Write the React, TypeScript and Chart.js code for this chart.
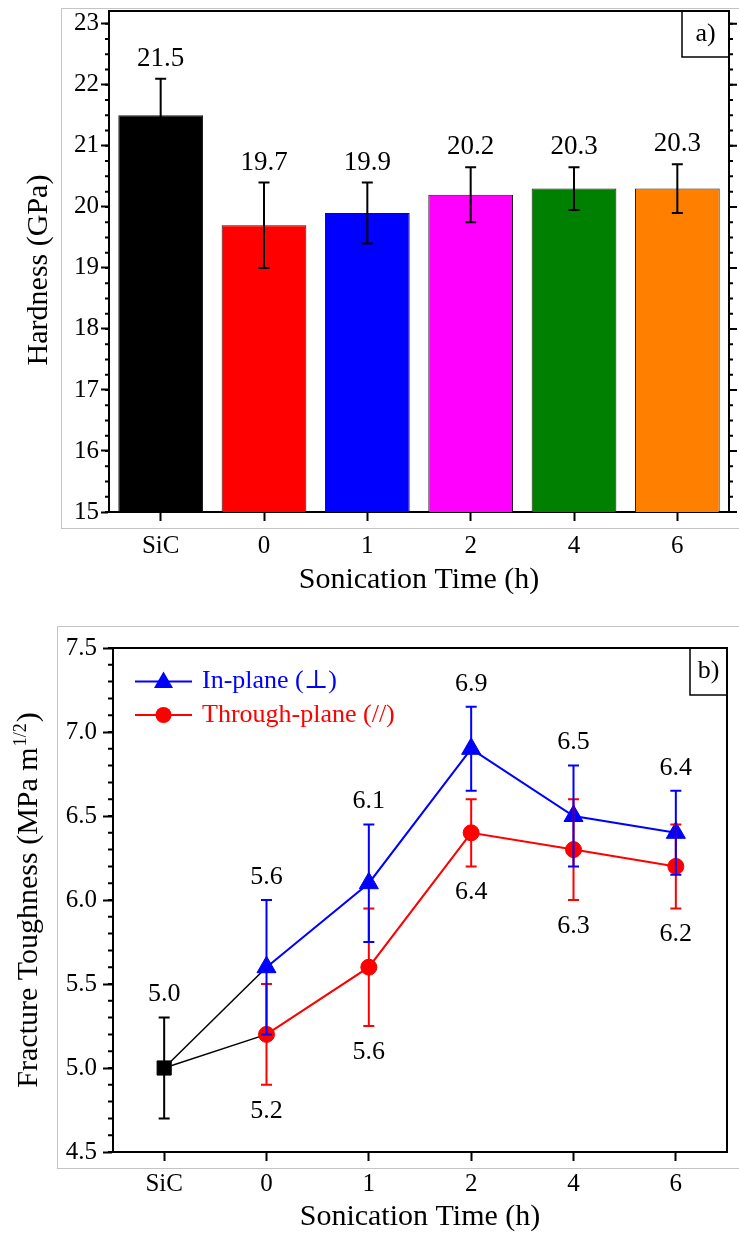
import React, { useEffect, useRef } from "react";
import { Chart, registerables } from "chart.js";

Chart.register(...registerables);

const FAMILY = "'Liberation Serif', 'Times New Roman', 'DejaVu Serif', serif";

// ---------- panel a) hardness ----------
const categories = ["SiC", "0", "1", "2", "4", "6"];
const hardness = [21.5, 19.7, 19.9, 20.2, 20.3, 20.3];
const hardnessErr = [0.6, 0.7, 0.5, 0.45, 0.35, 0.4];
const barColors = ["#000000", "#ff0000", "#0000ff", "#ff00ff", "#008000", "#ff8000"];
const hardnessMin = 15;
const hardnessMax = 23.21;
const hardnessStep = 1;
const hardnessMinorStep = 0.25;

// ---------- panel b) fracture toughness ----------
const sicToughness = [5.0];
const sicToughnessErr = [0.3];
const inPlane = [5.6, 6.1, 6.9, 6.5, 6.4]; // 0,1,2,4,6 h
const inPlaneErr = [0.4, 0.35, 0.25, 0.3, 0.25];
const throughPlane = [5.2, 5.6, 6.4, 6.3, 6.2];
const throughPlaneErr = [0.3, 0.35, 0.2, 0.3, 0.25];
const toughnessMin = 4.5;
const toughnessMax = 7.5;
const toughnessStep = 0.5;
const toughnessMinorStep = 0.1;

const BLUE = "#0000ff";
const RED = "#ff0000";

function errorBar(ctx: CanvasRenderingContext2D, x: number, yTop: number, yBot: number, cap: number, color: string) {
  ctx.save();
  ctx.strokeStyle = color;
  ctx.lineWidth = 2;
  ctx.beginPath();
  ctx.moveTo(x, yTop);
  ctx.lineTo(x, yBot);
  ctx.moveTo(x - cap / 2, yTop);
  ctx.lineTo(x + cap / 2, yTop);
  ctx.moveTo(x - cap / 2, yBot);
  ctx.lineTo(x + cap / 2, yBot);
  ctx.stroke();
  ctx.restore();
}

function yTicks(ctx: CanvasRenderingContext2D, yScale: any, x: number, dir: number, len: number, step: number, min: number, max: number) {
  ctx.save();
  ctx.strokeStyle = "#000";
  ctx.lineWidth = 2;
  ctx.beginPath();
  const n = Math.floor((max - min) / step + 1e-6);
  for (let i = 0; i <= n; i++) {
    const v = min + i * step;
    const y = yScale.getPixelForValue(v);
    ctx.moveTo(x, y);
    ctx.lineTo(x + dir * len, y);
  }
  ctx.stroke();
  ctx.restore();
}

function frame(ctx: CanvasRenderingContext2D, a: any) {
  ctx.save();
  ctx.strokeStyle = "#000";
  ctx.lineWidth = 2;
  ctx.beginPath();
  ctx.moveTo(a.left, a.top);
  ctx.lineTo(a.right, a.top);
  ctx.lineTo(a.right, a.bottom);
  ctx.stroke();
  ctx.restore();
}

function panelTag(ctx: CanvasRenderingContext2D, x0: number, y0: number, x1: number, y1: number, text: string) {
  ctx.save();
  ctx.strokeStyle = "#000";
  ctx.lineWidth = 1.5;
  ctx.strokeRect(x0, y0, x1 - x0, y1 - y0);
  ctx.fillStyle = "#000";
  ctx.font = `26px ${FAMILY}`;
  ctx.textAlign = "center";
  ctx.textBaseline = "middle";
  ctx.fillText(text, (x0 + x1) / 2, (y0 + y1) / 2);
  ctx.restore();
}

function grayBox(ctx: CanvasRenderingContext2D, x: number, y: number, w: number, h: number) {
  ctx.save();
  ctx.fillStyle = "#ffffff";
  ctx.fillRect(0, 0, ctx.canvas.width, ctx.canvas.height);
  ctx.strokeStyle = "#c4c4c4";
  ctx.lineWidth = 1;
  ctx.strokeRect(x + 0.5, y + 0.5, w, h);
  ctx.restore();
}

const panelAPlugin = {
  id: "panelA",
  beforeDraw(chart: any) {
    grayBox(chart.ctx, 61, 8, 800, 520);
  },
  afterDatasetsDraw(chart: any) {
    const ctx = chart.ctx;
    const y = chart.scales.y;
    const meta = chart.getDatasetMeta(0);
    meta.data.forEach((bar: any, i: number) => {
      const top = y.getPixelForValue(hardness[i] + hardnessErr[i]);
      const bot = y.getPixelForValue(hardness[i] - hardnessErr[i]);
      errorBar(ctx, bar.x, top, bot, 11, "#000");
      ctx.save();
      ctx.fillStyle = "#000";
      ctx.font = `27px ${FAMILY}`;
      ctx.textAlign = "center";
      ctx.textBaseline = "middle";
      ctx.fillText(hardness[i].toFixed(1), bar.x, top - 20);
      ctx.restore();
    });
  },
  afterDraw(chart: any) {
    const ctx = chart.ctx;
    const a = chart.chartArea;
    const y = chart.scales.y;
    frame(ctx, a);
    yTicks(ctx, y, a.left, -1, 4, hardnessMinorStep, hardnessMin, hardnessMax);
    yTicks(ctx, y, a.right, 1, 4, hardnessMinorStep, hardnessMin, hardnessMax);
    yTicks(ctx, y, a.right, 1, 8, hardnessStep, hardnessMin, hardnessMax);
    panelTag(ctx, 682, a.top, a.right, 57, "a)");
    ctx.save();
    ctx.translate(47, 270);
    ctx.rotate(-Math.PI / 2);
    ctx.fillStyle = "#000";
    ctx.font = `30px ${FAMILY}`;
    ctx.textAlign = "center";
    ctx.textBaseline = "alphabetic";
    ctx.fillText("Hardness (GPa)", 0, 0);
    ctx.restore();
  },
};

function drawTriangle(ctx: CanvasRenderingContext2D, x: number, y: number, r: number) {
  ctx.beginPath();
  ctx.moveTo(x, y - r);
  ctx.lineTo(x + r * Math.sin((2 * Math.PI) / 3), y - r * Math.cos((2 * Math.PI) / 3));
  ctx.lineTo(x + r * Math.sin((4 * Math.PI) / 3), y - r * Math.cos((4 * Math.PI) / 3));
  ctx.closePath();
  ctx.fill();
}

const panelBPlugin = {
  id: "panelB",
  beforeDraw(chart: any) {
    grayBox(chart.ctx, 57, 26, 800, 542);
  },
  afterDatasetsDraw(chart: any) {
    const ctx = chart.ctx;
    const x = chart.scales.x;
    const y = chart.scales.y;
    const label = (t: string, px: number, py: number) => {
      ctx.save();
      ctx.fillStyle = "#000";
      ctx.font = `26px ${FAMILY}`;
      ctx.textAlign = "center";
      ctx.textBaseline = "middle";
      ctx.fillText(t, px, py);
      ctx.restore();
    };
    // SiC
    {
      const px = x.getPixelForValue(0);
      const top = y.getPixelForValue(sicToughness[0] + sicToughnessErr[0]);
      const bot = y.getPixelForValue(sicToughness[0] - sicToughnessErr[0]);
      errorBar(ctx, px, top, bot, 11, "#000");
      label(sicToughness[0].toFixed(1), px, top - 23);
    }
    throughPlane.forEach((v, i) => {
      const px = x.getPixelForValue(i + 1);
      const top = y.getPixelForValue(v + throughPlaneErr[i]);
      const bot = y.getPixelForValue(v - throughPlaneErr[i]);
      errorBar(ctx, px, top, bot, 11, RED);
      label(v.toFixed(1), px, bot + 26);
    });
    inPlane.forEach((v, i) => {
      const px = x.getPixelForValue(i + 1);
      const top = y.getPixelForValue(v + inPlaneErr[i]);
      const bot = y.getPixelForValue(v - inPlaneErr[i]);
      errorBar(ctx, px, top, bot, 11, BLUE);
      label(v.toFixed(1), px, top - 23);
    });
  },
  afterDraw(chart: any) {
    const ctx = chart.ctx;
    const a = chart.chartArea;
    const y = chart.scales.y;
    frame(ctx, a);
    yTicks(ctx, y, a.left, -1, 5, toughnessMinorStep, toughnessMin, toughnessMax);
    panelTag(ctx, 690, a.top, a.right, 95, "b)");

    // legend
    const items = [
      { text: "In-plane (\u22A5)", color: BLUE, shape: "tri", y: 81.5 },
      { text: "Through-plane (//)", color: RED, shape: "circ", y: 115 },
    ];
    items.forEach((it) => {
      ctx.save();
      ctx.strokeStyle = it.color;
      ctx.fillStyle = it.color;
      ctx.lineWidth = 2;
      ctx.beginPath();
      ctx.moveTo(135, it.y);
      ctx.lineTo(192, it.y);
      ctx.stroke();
      if (it.shape === "tri") drawTriangle(ctx, 163.5, it.y + 1, 11);
      else {
        ctx.beginPath();
        ctx.arc(163.5, it.y, 8, 0, Math.PI * 2);
        ctx.fill();
      }
      ctx.font = `26px ${FAMILY}`;
      ctx.textAlign = "left";
      ctx.textBaseline = "middle";
      ctx.fillText(it.text, 202, it.y);
      ctx.restore();
    });

    // y title with superscript
    ctx.save();
    ctx.translate(36.5, 300);
    ctx.rotate(-Math.PI / 2);
    ctx.fillStyle = "#000";
    ctx.textBaseline = "alphabetic";
    ctx.textAlign = "left";
    const main = "Fracture Toughness (MPa m";
    const sup = "1/2";
    const close = ")";
    ctx.font = `30px ${FAMILY}`;
    const wMain = ctx.measureText(main).width;
    const wClose = ctx.measureText(close).width;
    ctx.font = `18px ${FAMILY}`;
    const wSup = ctx.measureText(sup).width + 2;
    const total = wMain + wSup + wClose;
    let cx = -total / 2;
    ctx.font = `30px ${FAMILY}`;
    ctx.fillText(main, cx, 0);
    cx += wMain;
    ctx.font = `18px ${FAMILY}`;
    ctx.fillText(sup, cx + 1, -11);
    cx += wSup;
    ctx.font = `30px ${FAMILY}`;
    ctx.fillText(close, cx, 0);
    ctx.restore();
  },
};

function zeroPadding(s: any) {
  s.paddingTop = 0;
  s.paddingBottom = 0;
}

function makeChartA(canvas: HTMLCanvasElement) {
  return new Chart(canvas, {
    type: "bar",
    data: {
      labels: categories,
      datasets: [
        {
          label: "Hardness (GPa)",
          data: hardness,
          backgroundColor: barColors,
          borderColor: "#1a1a1a",
          borderWidth: 1,
          barPercentage: 0.82,
          categoryPercentage: 1,
        },
      ],
    },
    options: {
      responsive: false,
      animation: false,
      devicePixelRatio: 1,
      layout: { padding: { left: 0, top: 11, right: 10, bottom: 0 } },
      plugins: { legend: { display: false }, tooltip: { enabled: false } },
      scales: {
        x: {
          grid: { display: true, drawOnChartArea: false, offset: false, tickLength: 9, tickWidth: 2, tickColor: "#000" },
          border: { display: true, color: "#000", width: 2 },
          ticks: { color: "#000", font: { family: FAMILY, size: 25 }, padding: 10 },
          title: {
            display: true,
            text: "Sonication Time (h)",
            color: "#000",
            font: { family: FAMILY, size: 30 },
            padding: { top: 0, bottom: 2 },
          },
          afterFit: (s: any) => {
            s.height = 88;
          },
        },
        y: {
          min: hardnessMin,
          max: hardnessMax,
          grid: { display: true, drawOnChartArea: false, tickLength: 8, tickWidth: 2, tickColor: "#000" },
          border: { display: true, color: "#000", width: 2 },
          ticks: {
            stepSize: hardnessStep,
            includeBounds: false,
            color: "#000",
            font: { family: FAMILY, size: 25 },
            padding: 2,
            callback: (v: any) => String(v),
          },
          afterFit: (s: any) => {
            s.width = 109;
            zeroPadding(s);
          },
        },
      },
    },
    plugins: [panelAPlugin],
  } as any);
}

function makeChartB(canvas: HTMLCanvasElement) {
  const n = categories.length;
  const empty = () => new Array(n).fill(null) as (number | null)[];
  const sicData = empty();
  sicData[0] = sicToughness[0];
  const linkIn = empty();
  linkIn[0] = sicToughness[0];
  linkIn[1] = inPlane[0];
  const linkThrough = empty();
  linkThrough[0] = sicToughness[0];
  linkThrough[1] = throughPlane[0];
  const inData = [null, ...inPlane];
  const throughData = [null, ...throughPlane];

  return new Chart(canvas, {
    type: "line",
    data: {
      labels: categories,
      datasets: [
        {
          label: "SiC",
          data: sicData,
          borderColor: "#000",
          backgroundColor: "#000",
          pointStyle: "rect",
          pointRadius: 10,
          pointBorderWidth: 1,
          showLine: false,
          order: 0,
        },
        {
          label: "In-plane (\u22A5)",
          data: inData,
          borderColor: BLUE,
          backgroundColor: BLUE,
          borderWidth: 2,
          pointStyle: "triangle",
          pointRadius: 11,
          pointBorderWidth: 1,
          order: 1,
        },
        {
          label: "Through-plane (//)",
          data: throughData,
          borderColor: RED,
          backgroundColor: RED,
          borderWidth: 2,
          pointStyle: "circle",
          pointRadius: 8,
          pointBorderWidth: 1,
          order: 2,
        },
        {
          label: "SiC to 0 h (in-plane)",
          data: linkIn,
          borderColor: "#000",
          borderWidth: 1.5,
          pointRadius: 0,
          order: 5,
        },
        {
          label: "SiC to 0 h (through-plane)",
          data: linkThrough,
          borderColor: "#000",
          borderWidth: 1.5,
          pointRadius: 0,
          order: 6,
        },
      ],
    },
    options: {
      responsive: false,
      animation: false,
      devicePixelRatio: 1,
      layout: { padding: { left: 0, top: 48, right: 1, bottom: 0 } },
      plugins: { legend: { display: false }, tooltip: { enabled: false } },
      scales: {
        x: {
          offset: true,
          grid: { display: true, drawOnChartArea: false, offset: false, tickLength: 9, tickWidth: 2, tickColor: "#000" },
          border: { display: true, color: "#000", width: 2 },
          ticks: { color: "#000", font: { family: FAMILY, size: 25 }, padding: 8 },
          title: {
            display: true,
            text: "Sonication Time (h)",
            color: "#000",
            font: { family: FAMILY, size: 30 },
            padding: { top: 0, bottom: 0 },
          },
          afterFit: (s: any) => {
            s.height = 83;
          },
        },
        y: {
          min: toughnessMin,
          max: toughnessMax,
          grid: { display: true, drawOnChartArea: false, tickLength: 10, tickWidth: 2, tickColor: "#000" },
          border: { display: true, color: "#000", width: 2 },
          ticks: {
            stepSize: toughnessStep,
            color: "#000",
            font: { family: FAMILY, size: 25 },
            padding: 6,
            callback: (v: any) => Number(v).toFixed(1),
          },
          afterFit: (s: any) => {
            s.width = 113;
            zeroPadding(s);
          },
        },
      },
    },
    plugins: [panelBPlugin],
  } as any);
}

export default function App() {
  const refA = useRef<HTMLCanvasElement>(null);
  const refB = useRef<HTMLCanvasElement>(null);
  useEffect(() => {
    const a = makeChartA(refA.current!);
    const b = makeChartB(refB.current!);
    return () => {
      a.destroy();
      b.destroy();
    };
  }, []);
  return (
    <div style={{ position: "absolute", left: 0, top: 0, width: 739, height: 1235, background: "#fff" }}>
      <canvas
        ref={refA}
        width={739}
        height={600}
        style={{ position: "absolute", left: 0, top: 0, width: 739, height: 600 }}
      />
      <canvas
        ref={refB}
        width={739}
        height={635}
        style={{ position: "absolute", left: 0, top: 600, width: 739, height: 635 }}
      />
    </div>
  );
}
